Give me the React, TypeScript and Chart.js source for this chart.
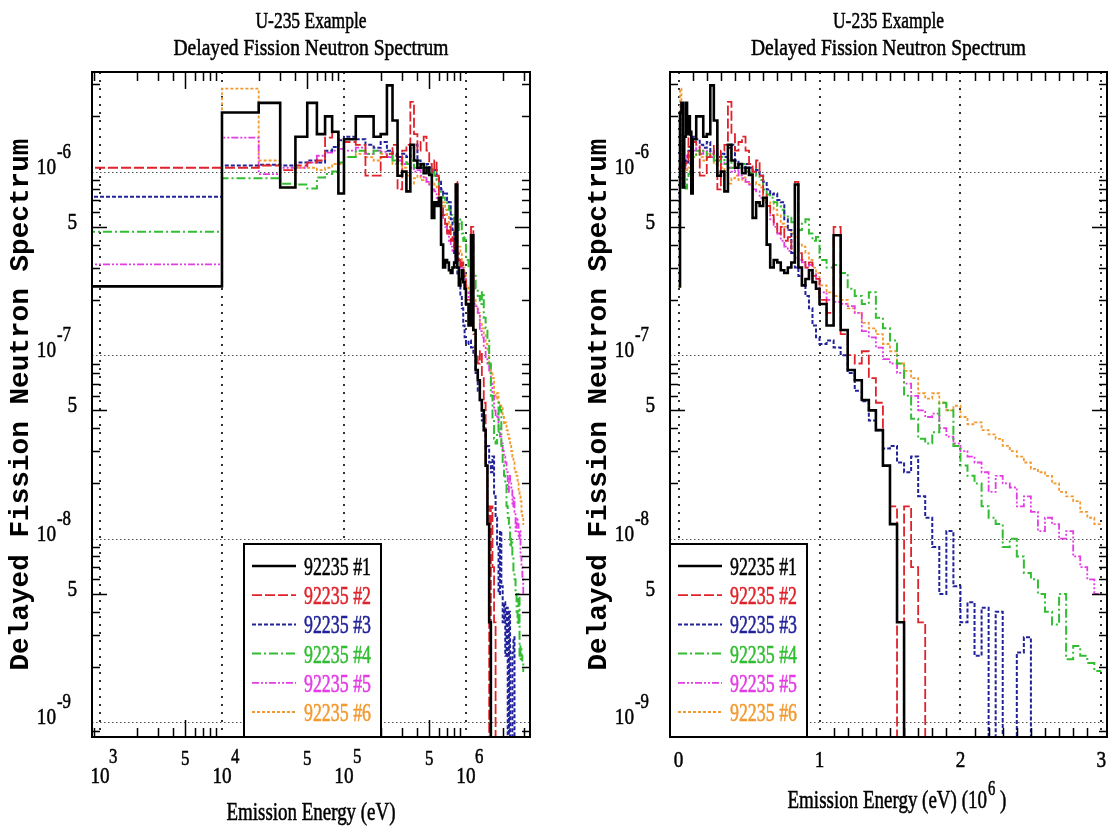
import React, { useEffect, useRef } from 'react';
import { Chart, registerables } from 'chart.js';

Chart.register(...registerables);

// ---------------- data ----------------
// histogram bin edges (keV); first edge is the bottom of the tabulation
const energyEdgesKeV = [
  0, 10, 20, 30, 40, 50, 60, 70, 80, 90,
  100, 125, 150, 175, 200, 225, 250, 275, 300, 325, 350, 375, 400, 425, 450, 475,
  500, 525, 550, 575, 600, 625, 650, 675, 700, 725, 750, 775, 800, 825, 850, 875,
  900, 925, 950, 975,
  1000, 1050, 1100, 1150, 1200, 1250, 1300, 1350, 1400, 1450, 1500, 1550, 1600,
  1650, 1700, 1750, 1800, 1850, 1900, 1950, 2000, 2050, 2100, 2150, 2200, 2250,
  2300, 2350, 2400, 2450, 2500, 2550, 2600, 2650, 2700, 2750, 2800, 2850, 2900,
  2950, 3000,
];

const spectrum1 = [
  2.37e-7, 2.1e-6, 2.37e-6, 8.2e-7, 1.55e-6, 2.37e-6, 1.6e-6, 2.0e-6, 1.65e-6, 7.6e-7,
  1.5e-6, 2.0e-6, 2.0e-6, 1.55e-6, 1.6e-6, 2.95e-6, 1.9e-6, 9.5e-7, 1.0e-6, 7.8e-7,
  1.4e-6, 1.15e-6, 1.05e-6, 1.1e-6, 9.8e-7, 1.05e-6, 9.6e-7, 5.6e-7, 6.8e-7, 6.5e-7,
  7.2e-7, 4.0e-7, 3.0e-7, 3.3e-7, 3.2e-7, 2.9e-7, 2.8e-7, 3.0e-7, 3.2e-7, 8.5e-7,
  3.0e-7, 2.4e-7, 2.6e-7, 2.9e-7, 2.5e-7, 2.3e-7,
  1.9e-7, 1.45e-7, 4.5e-7, 1.37e-7, 8.3e-8, 7.3e-8, 5.7e-8, 5.0e-8, 3.9e-8, 2.5e-8,
  1.2e-8, 3.5e-9, 0,
];

const spectrum2 = [
  1.05e-6, 1.05e-6, 1.08e-6, 1.02e-6, 1.08e-6, 1.12e-6, 1.15e-6, 1.53e-6, 1.63e-6, 1.5e-6,
  1.45e-6, 1.4e-6, 9.5e-7, 9.5e-7, 1.2e-6, 1.25e-6, 1.4e-6, 8.0e-7, 1.3e-6, 1.4e-6,
  2.4e-6, 1.6e-6, 1.3e-6, 1.45e-6, 1.55e-6, 1.3e-6, 1.1e-6, 1.0e-6, 1.15e-6, 9.5e-7,
  7.5e-7, 6.5e-7, 5.8e-7, 5.2e-7, 4.6e-7, 5.0e-7, 4.2e-7, 4.4e-7, 3.8e-7, 8.8e-7,
  3.6e-7, 3.3e-7, 3.0e-7, 3.2e-7, 2.7e-7, 2.6e-7,
  2.0e-7, 1.7e-7, 5.0e-7, 1.3e-7, 1.0e-7, 9.0e-8, 1.05e-7, 7.5e-8, 5.5e-8, 2.5e-8,
  1.5e-8, 0, 1.5e-8, 7.0e-9, 3.5e-9, 0,
];

const spectrum3 = [
  7.3e-7, 1.08e-6, 1.09e-6, 1.08e-6, 1.12e-6, 1.15e-6, 1.12e-6, 1.3e-6, 1.36e-6, 1.48e-6,
  1.55e-6, 1.5e-6, 1.4e-6, 1.35e-6, 1.45e-6, 1.3e-6, 1.25e-6, 1.2e-6, 1.25e-6, 1.2e-6,
  1.35e-6, 1.4e-6, 1.15e-6, 1.1e-6, 1.05e-6, 1.1e-6, 1.05e-6, 1.0e-6, 1.02e-6, 9.5e-7,
  8.8e-7, 8.0e-7, 7.5e-7, 7.6e-7, 7.0e-7, 6.8e-7, 5.5e-7, 4.8e-7, 3.6e-7, 3.0e-7,
  2.7e-7, 2.4e-7, 2.1e-7, 1.8e-7, 1.45e-7, 1.25e-7,
  1.15e-7, 1.2e-7, 1.1e-7, 1.0e-7, 8.0e-8, 6.4e-8, 5.6e-8, 4.4e-8, 3.9e-8, 3.1e-8,
  3.2e-8, 2.6e-8, 2.3e-8, 2.8e-8, 1.7e-8, 1.3e-8, 9.0e-9, 5.0e-9, 1.1e-8, 5.5e-9,
  3.5e-9, 4.5e-9, 2.3e-9, 4.2e-9, 0, 4.0e-9, 0, 0, 2.4e-9, 2.9e-9, 0,
];

const spectrum4 = [
  4.7e-7, 9.2e-7, 9.2e-7, 8.6e-7, 8.5e-7, 8.1e-7, 9.3e-7, 9.7e-7, 1.0e-6, 1.12e-6,
  1.2e-6, 1.3e-6, 1.25e-6, 1.3e-6, 1.2e-6, 1.25e-6, 1.15e-6, 1.1e-6, 1.2e-6, 1.1e-6,
  1.15e-6, 1.05e-6, 1.1e-6, 1.05e-6, 1.1e-6, 1.0e-6, 9.8e-7, 1.05e-6, 9.5e-7, 9.0e-7,
  8.0e-7, 7.5e-7, 7.2e-7, 6.8e-7, 6.5e-7, 6.2e-7, 5.8e-7, 5.6e-7, 5.3e-7, 5.0e-7,
  4.8e-7, 5.2e-7, 5.5e-7, 4.6e-7, 4.2e-7, 4.4e-7,
  3.3e-7, 3.0e-7, 3.1e-7, 2.8e-7, 2.3e-7, 2.1e-7, 1.9e-7, 2.2e-7, 1.6e-7, 1.4e-7,
  1.2e-7, 9.0e-8, 6.0e-8, 4.5e-8, 3.5e-8, 3.3e-8, 3.8e-8, 5.5e-8, 5.0e-8, 3.2e-8,
  2.5e-8, 2.2e-8, 2.0e-8, 1.5e-8, 1.3e-8, 1.2e-8, 9.0e-9, 1.0e-8, 8.0e-9, 6.5e-9,
  6.0e-9, 5.0e-9, 4.0e-9, 3.4e-9, 5.0e-9, 2.2e-9, 2.6e-9, 2.3e-9, 2.1e-9, 1.9e-9,
];

const spectrum5 = [
  3.12e-7, 1.53e-6, 9.7e-7, 1.05e-6, 1.05e-6, 1.12e-6, 1.22e-6, 1.27e-6, 1.3e-6, 1.33e-6,
  1.3e-6, 1.35e-6, 1.25e-6, 1.3e-6, 1.28e-6, 1.2e-6, 1.22e-6, 1.15e-6, 1.1e-6, 1.12e-6,
  1.05e-6, 1.0e-6, 1.02e-6, 9.5e-7, 9.2e-7, 8.8e-7, 8.5e-7, 8.0e-7, 7.8e-7, 7.2e-7,
  6.8e-7, 5.8e-7, 5.5e-7, 5.0e-7, 4.6e-7, 4.2e-7, 3.9e-7, 3.7e-7, 3.6e-7, 3.4e-7,
  3.3e-7, 3.2e-7, 3.0e-7, 3.1e-7, 2.8e-7, 2.6e-7,
  2.2e-7, 2.0e-7, 1.95e-7, 1.9e-7, 1.85e-7, 1.7e-7, 1.35e-7, 1.25e-7, 1.1e-7, 9.5e-8,
  9.0e-8, 8.0e-8, 7.0e-8, 6.0e-8, 5.0e-8, 4.6e-8, 4.8e-8, 4.0e-8, 3.6e-8, 3.3e-8,
  3.0e-8, 2.8e-8, 2.6e-8, 2.3e-8, 1.8e-8, 2.2e-8, 2.0e-8, 1.9e-8, 1.5e-8, 1.7e-8,
  1.4e-8, 1.1e-8, 1.3e-8, 1.2e-8, 1.0e-8, 1.1e-8, 8.0e-9, 7.0e-9, 6.0e-9, 5.0e-9,
];

const spectrum6 = [
  2.37e-7, 2.83e-6, 1.15e-6, 8.2e-7, 1.05e-6, 1.05e-6, 1.02e-6, 1.05e-6, 1.1e-6, 1.1e-6,
  1.2e-6, 1.25e-6, 1.2e-6, 1.15e-6, 1.25e-6, 1.2e-6, 1.1e-6, 1.15e-6, 1.05e-6, 9.5e-7,
  8.6e-7, 9.2e-7, 9.5e-7, 9.0e-7, 9.3e-7, 8.8e-7, 8.6e-7, 8.8e-7, 8.5e-7, 8.2e-7,
  7.0e-7, 6.5e-7, 6.8e-7, 6.2e-7, 5.8e-7, 5.2e-7, 5.0e-7, 4.8e-7, 4.6e-7, 4.4e-7,
  4.0e-7, 3.9e-7, 3.6e-7, 3.3e-7, 3.0e-7, 2.8e-7,
  2.4e-7, 2.2e-7, 2.1e-7, 2.0e-7, 1.8e-7, 1.7e-7, 1.5e-7, 1.4e-7, 1.3e-7, 1.15e-7,
  1.05e-7, 9.0e-8, 8.2e-8, 7.5e-8, 6.2e-8, 5.8e-8, 6.2e-8, 5.5e-8, 5.0e-8, 5.3e-8,
  4.6e-8, 4.2e-8, 4.3e-8, 3.9e-8, 3.7e-8, 3.5e-8, 3.2e-8, 3.0e-8, 2.8e-8, 2.6e-8,
  2.4e-8, 2.3e-8, 2.2e-8, 2.0e-8, 1.8e-8, 1.7e-8, 1.6e-8, 1.4e-8, 1.3e-8, 1.2e-8,
];

const seriesValues = [spectrum1, spectrum2, spectrum3, spectrum4, spectrum5, spectrum6];
const seriesLabels = ['92235 #1', '92235 #2', '92235 #3', '92235 #4', '92235 #5', '92235 #6'];

const titleLine1 = 'U-235 Example';
const titleLine2 = 'Delayed Fission Neutron Spectrum';
const yAxisTitle = 'Delayed Fission Neutron Spectrum';
const xAxisTitleLog = 'Emission Energy (eV)';
const xAxisTitleLinParts = ['Emission Energy (eV) (10', '6', ' )'];

const yDecadeTicks = [1e-9, 1e-8, 1e-7, 1e-6];
const yDecadeExponents = ['-9', '-8', '-7', '-6'];
const yFiveTicks = [5e-9, 5e-8, 5e-7];
const logXDecadeTicks = [1e3, 1e4, 1e5, 1e6];
const logXExponents = ['3', '4', '5', '6'];
const logXFiveTicks = [5e3, 5e4, 5e5];
const linXTicks = [0, 1, 2, 3];
const linXLabels = ['0', '1', '2', '3'];
const minorMultipliers = [2, 3, 4, 5, 6, 7, 8, 9];

// ---------------- styles / layout ----------------
const seriesColors = ['#000000', '#e0222a', '#22229a', '#32bd32', '#e43ce4', '#f29a30'];
const seriesDashes: number[][] = [[], [10, 3], [4, 2], [9, 3, 2, 3], [7, 2, 2, 2, 2, 2], [3, 2]];
const seriesWidths = [2.6, 1.8, 2, 2, 1.8, 1.8];

const Y_MIN = 8.3e-10;
const Y_MAX = 3.49e-6;
const LOGX_MIN = 860;
const LOGX_MAX = 3.35e6;
const LINX_MIN = -0.061;
const LINX_MAX = 3.04;

const SERIF = '"Liberation Serif", "DejaVu Serif", "Times New Roman", serif';
const MONO = '"Liberation Mono", "DejaVu Sans Mono", monospace';

type Kind = 'log' | 'lin';

function stepPoints(values: number[], kind: Kind) {
  const toX = (keV: number) =>
    kind === 'log' ? (keV > 0 ? keV * 1000 : LOGX_MIN / 100) : keV / 1000;
  const toY = (v: number) => (v > 0 ? v : Y_MIN / 100);
  const pts = values.map((v, i) => ({ x: toX(energyEdgesKeV[i]), y: toY(v) }));
  pts.push({ x: toX(energyEdgesKeV[values.length]), y: toY(values[values.length - 1]) });
  return pts;
}

const TEXT_STROKE = 0.55;

function textAt(
  ctx: CanvasRenderingContext2D,
  text: string,
  x: number,
  y: number,
  size: number,
  sx: number,
  align: 'left' | 'center' | 'right',
  color = '#000',
  family = SERIF
) {
  ctx.save();
  ctx.font = `${size}px ${family}`;
  ctx.fillStyle = color;
  ctx.strokeStyle = color;
  ctx.lineWidth = TEXT_STROKE;
  ctx.lineJoin = 'round';
  ctx.setLineDash([]);
  ctx.textBaseline = 'alphabetic';
  ctx.textAlign = 'left';
  const w = ctx.measureText(text).width * sx;
  const x0 = align === 'left' ? x : align === 'center' ? x - w / 2 : x - w;
  ctx.translate(x0, y);
  ctx.scale(sx, 1);
  ctx.fillText(text, 0, 0);
  ctx.strokeText(text, 0, 0);
  ctx.restore();
  return w;
}

function textFit(
  ctx: CanvasRenderingContext2D,
  text: string,
  x: number,
  y: number,
  size: number,
  width: number,
  align: 'left' | 'center' | 'right',
  color = '#000',
  family = SERIF
) {
  ctx.save();
  ctx.font = `${size}px ${family}`;
  const m = ctx.measureText(text).width;
  ctx.restore();
  return textAt(ctx, text, x, y, size, width / m, align, color, family);
}

const LABEL_SX = 0.8;

const decorPlugin = {
  id: 'decor',
  beforeDatasetsDraw(chart: any, _args: any, opts: any) {
    const kind: Kind = opts.kind;
    const ctx: CanvasRenderingContext2D = chart.ctx;
    const { left, right, top, bottom } = chart.chartArea;
    const xs = chart.scales.x;
    const ys = chart.scales.y;
    ctx.save();
    ctx.beginPath();
    ctx.rect(left, top, right - left, bottom - top);
    ctx.clip();
    ctx.setLineDash([1.5, 2.5]);
    ctx.lineWidth = 1.2;
    ctx.strokeStyle = '#555';
    yDecadeTicks.forEach((v) => {
      const y = Math.round(ys.getPixelForValue(v)) + 0.5;
      ctx.beginPath();
      ctx.moveTo(left, y);
      ctx.lineTo(right, y);
      ctx.stroke();
    });
    ctx.setLineDash([2, 6]);
    ctx.lineWidth = 2;
    ctx.strokeStyle = '#333';
    const xv = kind === 'log' ? logXDecadeTicks : linXTicks;
    xv.forEach((v) => {
      const x = Math.round(xs.getPixelForValue(v));
      ctx.beginPath();
      ctx.moveTo(x, top);
      ctx.lineTo(x, bottom);
      ctx.stroke();
    });
    ctx.restore();
  },
  afterDraw(chart: any, _args: any, opts: any) {
    const kind: Kind = opts.kind;
    const ctx: CanvasRenderingContext2D = chart.ctx;
    const { left, right, top, bottom } = chart.chartArea;
    const xs = chart.scales.x;
    const ys = chart.scales.y;
    const cx = (left + right) / 2;

    // ---- inside tick marks ----
    ctx.save();
    ctx.setLineDash([]);
    ctx.strokeStyle = '#000';
    ctx.lineWidth = 1.5;
    for (let e = -10; e <= -6; e++) {
      minorMultipliers.forEach((m) => {
        const v = m * Math.pow(10, e);
        if (v <= Y_MIN || v >= Y_MAX) return;
        const y = Math.round(ys.getPixelForValue(v)) + 0.5;
        const len = m === 5 ? 15 : 8;
        ctx.beginPath();
        ctx.moveTo(left, y);
        ctx.lineTo(left + len, y);
        ctx.moveTo(right - len, y);
        ctx.lineTo(right, y);
        ctx.stroke();
      });
    }
    if (kind === 'log') {
      for (let e = 2; e <= 6; e++) {
        minorMultipliers.forEach((m) => {
          const v = m * Math.pow(10, e);
          if (v <= LOGX_MIN || v >= LOGX_MAX) return;
          const x = Math.round(xs.getPixelForValue(v)) + 0.5;
          const len = m === 5 ? 17 : 9;
          ctx.beginPath();
          ctx.moveTo(x, top);
          ctx.lineTo(x, top + len);
          ctx.moveTo(x, bottom);
          ctx.lineTo(x, bottom - len);
          ctx.stroke();
        });
      }
    } else {
      for (let k = 1; k < 30; k++) {
        if (k % 10 === 0) continue;
        const x = Math.round(xs.getPixelForValue(k / 10)) + 0.5;
        ctx.beginPath();
        ctx.moveTo(x, top);
        ctx.lineTo(x, top + 9);
        ctx.moveTo(x, bottom);
        ctx.lineTo(x, bottom - 9);
        ctx.stroke();
      }
    }
    ctx.restore();

    // ---- legend ----
    const lx = left + (kind === 'log' ? 152 : 0);
    const ly = 544;
    const lw = 137;
    ctx.save();
    ctx.setLineDash([]);
    ctx.fillStyle = '#fff';
    ctx.fillRect(lx, ly, lw, bottom - ly);
    ctx.lineWidth = 2;
    ctx.strokeStyle = '#000';
    ctx.strokeRect(lx, ly, lw, bottom - ly);
    chart.data.datasets.forEach((ds: any, i: number) => {
      const ry = 566 + i * 29.2;
      ctx.save();
      ctx.strokeStyle = ds.borderColor;
      ctx.lineWidth = ds.borderWidth;
      ctx.setLineDash(ds.borderDash || []);
      ctx.beginPath();
      ctx.moveTo(lx + 8, ry);
      ctx.lineTo(lx + 52, ry);
      ctx.stroke();
      ctx.restore();
      textFit(ctx, ds.label, lx + 60, ry + 9, 25, 67, 'left', ds.borderColor);
    });
    ctx.restore();

    // ---- frame ----
    ctx.save();
    ctx.setLineDash([]);
    ctx.lineWidth = 2;
    ctx.strokeStyle = '#000';
    ctx.strokeRect(left, top, right - left, bottom - top);
    ctx.restore();

    // ---- y tick labels ----
    yDecadeTicks.forEach((v, i) => {
      const y = ys.getPixelForValue(v);
      textAt(ctx, '10', left - 36, y + 2, 24, LABEL_SX, 'right');
      textAt(ctx, yDecadeExponents[i], left - 35, y - 14, 21, LABEL_SX, 'left');
    });
    yFiveTicks.forEach((v) => {
      const y = ys.getPixelForValue(v);
      textAt(ctx, '5', left - 15, y + 2, 24, LABEL_SX, 'right');
    });

    // ---- x tick labels ----
    if (kind === 'log') {
      logXDecadeTicks.forEach((v, i) => {
        const x = xs.getPixelForValue(v);
        textAt(ctx, '10', x, bottom + 46, 24, LABEL_SX, 'center');
        textAt(ctx, logXExponents[i], x + 9, bottom + 26, 21, LABEL_SX, 'left');
      });
      logXFiveTicks.forEach((v) => {
        const x = xs.getPixelForValue(v);
        textAt(ctx, '5', x, bottom + 28, 21, LABEL_SX, 'center');
      });
    } else {
      linXTicks.forEach((v, i) => {
        const x = xs.getPixelForValue(v);
        textAt(ctx, linXLabels[i], x, bottom + 30, 24, LABEL_SX, 'center');
      });
    }

    // ---- titles ----
    textFit(ctx, titleLine1, cx, 28, 24, 111, 'center');
    textFit(ctx, titleLine2, cx, 55, 24, 275, 'center');

    // ---- x axis title ----
    const XT_SX = 0.73;
    if (kind === 'log') {
      textFit(ctx, xAxisTitleLog, cx, 820, 26, 169, 'center');
    } else {
      let x = cx - 101;
      x += textAt(ctx, xAxisTitleLinParts[0], x, 808, 26, XT_SX, 'left');
      x += 1;
      x += textAt(ctx, xAxisTitleLinParts[1], x, 795, 20, XT_SX, 'left');
      textAt(ctx, xAxisTitleLinParts[2], x, 808, 26, XT_SX, 'left');
    }

    // ---- y axis title (rotated) ----
    ctx.save();
    ctx.translate(left - 71, (top + bottom) / 2);
    ctx.rotate(-Math.PI / 2);
    ctx.font = `bold 28px ${MONO}`;
    const m = ctx.measureText(yAxisTitle).width;
    ctx.scale(532 / m, 1);
    ctx.textAlign = 'center';
    ctx.textBaseline = 'middle';
    ctx.fillStyle = '#000';
    ctx.fillText(yAxisTitle, 0, 0);
    ctx.restore();
  },
};

function makeConfig(kind: Kind): any {
  const datasets = seriesValues.map((vals, i) => ({
    label: seriesLabels[i],
    data: stepPoints(vals, kind),
    borderColor: seriesColors[i],
    backgroundColor: seriesColors[i],
    borderWidth: seriesWidths[i],
    borderDash: seriesDashes[i],
    pointRadius: 0,
    stepped: true,
    fill: false,
    tension: 0,
    clip: 0,
  }));
  return {
    type: 'line',
    data: { datasets },
    options: {
      animation: false,
      responsive: false,
      devicePixelRatio: 1,
      events: [],
      layout: { padding: { top: 72, bottom: 91, left: 0, right: kind === 'log' ? 25 : 3 } },
      scales: {
        x: {
          type: kind === 'log' ? 'logarithmic' : 'linear',
          min: kind === 'log' ? LOGX_MIN : LINX_MIN,
          max: kind === 'log' ? LOGX_MAX : LINX_MAX,
          grid: { display: false },
          border: { display: false },
          ticks: { display: false },
          afterFit: (s: any) => {
            s.height = 0;
          },
        },
        y: {
          type: 'logarithmic',
          min: Y_MIN,
          max: Y_MAX,
          grid: { display: false },
          border: { display: false },
          ticks: { display: false },
          afterFit: (s: any) => {
            s.width = kind === 'log' ? 92 : 115;
          },
        },
      },
      plugins: {
        legend: { display: false },
        tooltip: { enabled: false },
        title: { display: false },
        decor: { kind },
      },
    },
    plugins: [decorPlugin],
  };
}

function Panel({ kind }: { kind: Kind }) {
  const ref = useRef<HTMLCanvasElement>(null);
  useEffect(() => {
    if (!ref.current) return;
    const chart = new Chart(ref.current, makeConfig(kind));
    return () => chart.destroy();
  }, [kind]);
  return (
    <canvas
      ref={ref}
      width={555}
      height={828}
      style={{ display: 'block', width: 555, height: 828 }}
    />
  );
}

export default function App() {
  return (
    <div
      style={{
        position: 'absolute',
        left: 0,
        top: 0,
        width: 1110,
        height: 828,
        background: '#fff',
        display: 'flex',
      }}
    >
      <Panel kind="log" />
      <Panel kind="lin" />
    </div>
  );
}
